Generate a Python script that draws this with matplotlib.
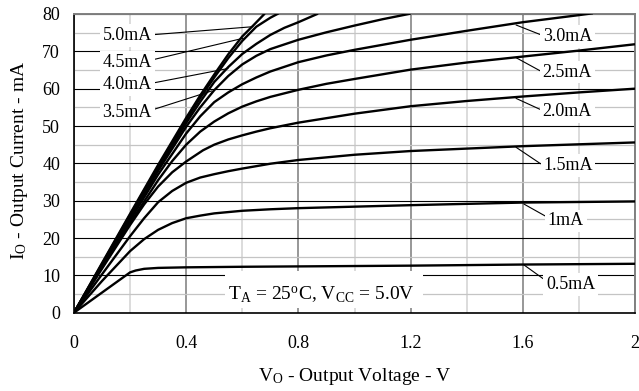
import matplotlib
matplotlib.use("Agg")
import matplotlib.pyplot as plt
from matplotlib.patches import Rectangle

plt.rcParams['font.family'] = ['Liberation Serif', 'DejaVu Serif']
plt.rcParams['mathtext.fontset'] = 'custom'
plt.rcParams['mathtext.rm'] = 'Liberation Serif'
plt.rcParams['mathtext.it'] = 'Liberation Serif:italic'

# ---- data ----
v_05 = [0, 0.1, 0.2, 0.22, 0.25, 0.3, 0.4, 0.6, 0.8, 1.2, 1.6, 2.0]
i_05 = [0, 5.4, 10.8, 11.3, 11.75, 12.0, 12.15, 12.3, 12.4, 12.6, 12.9, 13.1]

v_10 = [0, 0.1, 0.2, 0.25, 0.3, 0.35, 0.4, 0.45, 0.5, 0.6, 0.7, 0.8, 1.0, 1.2, 1.6, 2.0]
i_10 = [0, 8.5, 16.5, 19.7, 22.2, 24.0, 25.3, 26.0, 26.6, 27.3, 27.7, 28.0, 28.4, 28.8, 29.5, 29.8]

v_15 = [0, 0.1, 0.2, 0.25, 0.3, 0.35, 0.4, 0.45, 0.5, 0.55, 0.6, 0.7, 0.8, 1.0, 1.2, 1.6, 2.0]
i_15 = [0, 10.3, 20.5, 25.3, 29.6, 32.6, 34.8, 36.2, 37.1, 37.9, 38.6, 39.9, 40.9, 42.3, 43.3, 44.6, 45.6]

v_20 = [0, 0.1, 0.2, 0.25, 0.3, 0.35, 0.4, 0.46, 0.5, 0.55, 0.6, 0.65, 0.7, 0.8, 1.0, 1.2, 1.4, 1.6, 1.8, 2.0]
i_20 = [0, 11.8, 23.5, 29.0, 33.8, 37.6, 40.5, 43.5, 45.0, 46.4, 47.5, 48.5, 49.4, 50.9, 53.3, 55.3, 56.7, 57.9, 59.0, 60.0]

v_25 = [0, 0.1, 0.2, 0.3, 0.35, 0.4, 0.45, 0.5, 0.55, 0.6, 0.65, 0.7, 0.8, 0.9, 1.0, 1.2, 1.4, 1.6, 1.8, 2.0]
i_25 = [0, 12.1, 24.1, 35.5, 40.6, 45.0, 48.5, 51.2, 53.4, 55.2, 56.6, 57.8, 59.7, 61.3, 62.6, 65.1, 67.0, 68.6, 70.2, 71.9]

v_30 = [0, 0.1, 0.2, 0.3, 0.4, 0.45, 0.5, 0.55, 0.6, 0.65, 0.7, 0.8, 0.9, 1.0, 1.2, 1.4, 1.6, 1.8, 1.85]
i_30 = [0, 12.4, 24.8, 37.0, 48.0, 52.6, 56.4, 59.0, 61.2, 63.0, 64.6, 67.1, 68.9, 70.4, 73.1, 75.5, 77.8, 79.7, 80.2]

v_35 = [0, 0.1, 0.2, 0.3, 0.4, 0.45, 0.5, 0.55, 0.6, 0.65, 0.7, 0.8, 0.9, 1.0, 1.1, 1.2]
i_35 = [0, 12.7, 25.4, 38.0, 49.8, 55.0, 59.6, 63.4, 66.5, 68.8, 70.6, 73.1, 75.1, 76.9, 78.6, 80.1]

v_40 = [0, 0.1, 0.2, 0.3, 0.4, 0.45, 0.5, 0.55, 0.6, 0.65, 0.7, 0.75, 0.8, 0.87]
i_40 = [0, 12.9, 25.8, 38.6, 50.8, 56.5, 61.8, 65.8, 69.3, 72.0, 74.4, 76.3, 77.8, 80.1]

v_45 = [0, 0.1, 0.2, 0.3, 0.4, 0.45, 0.5, 0.55, 0.6, 0.65, 0.7, 0.73]
i_45 = [0, 13.1, 26.2, 39.2, 51.6, 57.5, 63.0, 68.2, 72.8, 76.6, 79.0, 80.2]

v_50 = [0, 0.1, 0.2, 0.3, 0.4, 0.45, 0.5, 0.55, 0.6, 0.64, 0.68]
i_50 = [0, 13.3, 26.5, 39.6, 52.2, 58.2, 63.8, 69.2, 74.0, 77.0, 80.1]

curves_v = [v_05, v_10, v_15, v_20, v_25, v_30, v_35, v_40, v_45, v_50]
curves_i = [i_05, i_10, i_15, i_20, i_25, i_30, i_35, i_40, i_45, i_50]

label_text = ['0.5mA', '1mA', '1.5mA', '2.0mA', '2.5mA', '3.0mA', '3.5mA', '4.0mA', '4.5mA', '5.0mA']
# leader end on curve (V, I)
leader_xy = [(1.604, 12.8), (1.604, 29.1), (1.576, 44.3), (1.576, 57.4), (1.576, 68.3),
             (1.576, 77.05), (0.491, 59.4), (0.549, 65.4), (0.603, 73.5), (0.638, 76.6)]
# text anchor (left, baseline)
text_xy = [(1.683, 6.3), (1.689, 23.4), (1.673, 38.2), (1.671, 52.7), (1.671, 63.2),
           (1.671, 72.8), (0.102, 52.5), (0.102, 59.8), (0.102, 65.9), (0.102, 73.0)]
relpos = [(0, 0.73), (0, 0.7), (0, 0.5), (0, 0.55), (0, 0.5), (0, 0.55),
          (1, 0.63), (1, 0.6), (1, 0.63), (1, 0.55)]

x_ticks = [0, 0.4, 0.8, 1.2, 1.6, 2.0]
x_tick_labels = ['0', '0.4', '0.8', '1.2', '1.6', '2']
y_ticks = [0, 10, 20, 30, 40, 50, 60, 70, 80]

fig = plt.figure(figsize=(6.39, 3.91), dpi=100)
ax = fig.add_axes([74/639, (391-312.7)/391, 561/639, 298.7/391])
ax.set_xlim(0, 2)
ax.set_ylim(0, 80)

ax.set_xticks(x_ticks)
ax.set_xticklabels(x_tick_labels)
ax.set_xticks([0.2, 0.6, 1.0, 1.4, 1.8], minor=True)
ax.set_yticks(y_ticks)
ax.set_yticks([5, 15, 25, 35, 45, 55, 65, 75], minor=True)
ax.tick_params(which='both', length=0)
ax.tick_params(axis='x', pad=16, labelsize=13)
ax.tick_params(axis='y', pad=10, labelsize=13)

ax.set_axisbelow(True)
ax.grid(which='minor', axis='x', color='#d2d2d2', lw=1.1)
ax.grid(which='minor', axis='y', color='#c4c4c4', lw=0.9)
ax.grid(which='major', axis='x', color='#7a7a7a', lw=1.1)
ax.grid(which='major', axis='y', color='black', lw=0.8)

for s in ['left', 'bottom']:
    ax.spines[s].set_color('black')
    ax.spines[s].set_linewidth(1.2)
for s in ['top', 'right']:
    ax.spines[s].set_color('#808080')
    ax.spines[s].set_linewidth(1.4)

for v, i in zip(curves_v, curves_i):
    ax.plot(v, i, color='black', lw=1.7, zorder=4, solid_capstyle='butt',
            solid_joinstyle='round')

for t, xy, txy, rp in zip(label_text, leader_xy, text_xy, relpos):
    ax.annotate(t, xy=xy, xytext=txy, ha='left', va='baseline', fontsize=13,
                zorder=3,
                bbox=dict(boxstyle='square,pad=0.15', facecolor='white', edgecolor='none'),
                arrowprops=dict(arrowstyle='-', lw=0.8, color='black',
                                shrinkA=0, shrinkB=0, relpos=rp))

ax.add_patch(Rectangle((0.538, 1.26), 0.706, 10.0, facecolor='white',
                       edgecolor='none', zorder=2.5))
ax.text(0.55, 3.4, r'$\mathregular{T_A}$ = 25$\mathregular{^o}$C, $\mathregular{V_{CC}}$ = 5.0V',
        ha='left', va='baseline', fontsize=14, zorder=3)

ax.set_xlabel(r'$\mathregular{V_O}$ - Output Voltage - V', fontsize=14)
ax.set_ylabel(r'$\mathregular{I_O}$ - Output Current - mA', fontsize=14)
ax.xaxis.set_label_coords(0.5, -0.18)
ax.yaxis.set_label_coords(-0.079, 0.51)

fig.savefig('out.png', dpi=100)
